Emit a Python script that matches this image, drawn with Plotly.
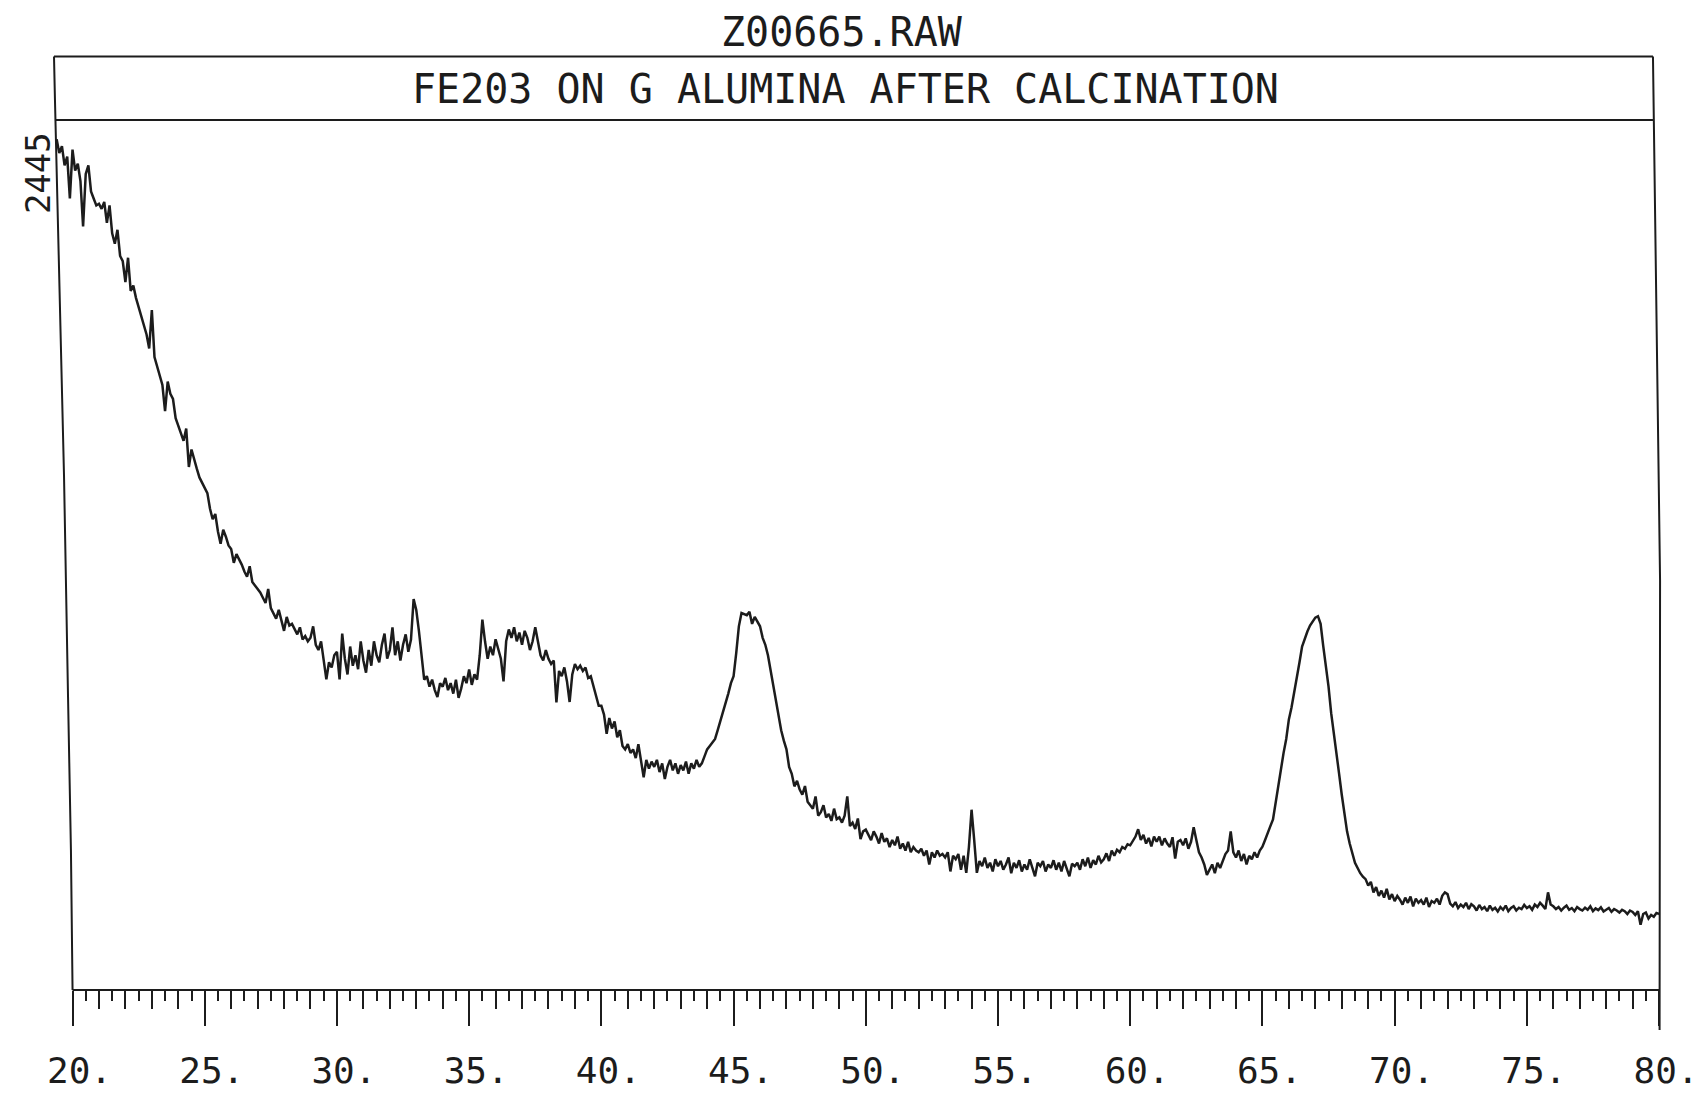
import numpy as np
import plotly.graph_objects as go

# scan parameters as stored in the .RAW file
scan_start = 19.4   # degrees 2-theta
scan_step = 0.1

# counts, one row per degree
counts = [
    2440, 2400, 2420, 2365, 2390, 2270,                          # 19.4 - 19.9
    2410, 2350, 2370, 2320, 2190, 2340, 2365, 2290, 2270, 2250,  # 20
    2255, 2240, 2260, 2200, 2250, 2170, 2140, 2180, 2105, 2090,  # 21
    2030, 2100, 2005, 2020, 1985, 1960, 1935, 1905, 1880, 1840,  # 22
    1950, 1815, 1790, 1760, 1735, 1660, 1745, 1710, 1695, 1640,  # 23
    1620, 1600, 1575, 1610, 1500, 1550, 1520, 1495, 1470, 1455,  # 24
    1440, 1425, 1380, 1350, 1365, 1315, 1280, 1320, 1300, 1275,  # 25
    1265, 1225, 1250, 1235, 1220, 1200, 1185, 1215, 1170, 1160,  # 26
    1150, 1140, 1125, 1110, 1150, 1095, 1080, 1065, 1090, 1055,  # 27
    1030, 1070, 1045, 1050, 1035, 1020, 1040, 1005, 1015, 1000,  # 28
    1010, 1043, 990, 975, 1000, 950, 891, 940, 925, 960,         # 29
    970, 891, 1022, 950, 905, 985, 930, 960, 920, 1000,          # 30
    945, 910, 975, 930, 1000, 960, 940, 990, 1022, 950,          # 31
    975, 1040, 960, 1000, 945, 990, 1020, 970, 1005, 1121,       # 32
    1090, 1030, 960, 890, 900, 870, 890, 860, 840, 880,          # 33
    870, 895, 860, 880, 850, 890, 838, 865, 900, 880,            # 34
    919, 875, 905, 890, 960, 1062, 1000, 950, 985, 960,          # 35
    1006, 980, 950, 885, 1000, 1034, 1010, 1040, 1000, 1025,     # 36
    990, 1030, 1010, 975, 1000, 1040, 995, 960, 945, 975,        # 37
    950, 935, 945, 825, 915, 900, 925, 885, 826, 905,            # 38
    935, 920, 930, 915, 925, 895, 900, 870, 845, 815,            # 39
    815, 790, 735, 780, 750, 770, 725, 745, 700, 690,            # 40
    705, 680, 690, 665, 705, 650, 610, 660, 635, 655,            # 41
    640, 660, 625, 650, 605, 640, 660, 630, 650, 620,            # 42
    645, 630, 655, 620, 650, 635, 660, 640, 650, 670,            # 43
    690, 700, 710, 720, 745, 770, 795, 823, 850, 880,            # 44
    900, 966, 1043, 1081, 1078, 1075, 1085, 1050, 1070, 1055,    # 45
    1043, 1010, 990, 960, 915, 872, 835, 790, 745, 715,          # 46
    690, 640, 620, 584, 600, 575, 560, 585, 540, 530,            # 47
    520, 555, 500, 510, 530, 495, 505, 485, 520, 490,            # 48
    495, 480, 500, 555, 470, 480, 462, 492, 433, 455,            # 49
    460, 445, 430, 455, 440, 420, 450, 425, 435, 410,            # 50
    430, 415, 440, 405, 420, 400, 425, 395, 410, 400,            # 51
    395, 405, 385, 400, 360, 395, 380, 400, 385, 390,            # 52
    380, 395, 340, 385, 375, 390, 345, 385, 336, 410,            # 53
    517, 430, 336, 370, 355, 380, 350, 365, 340, 375,            # 54
    355, 370, 345, 360, 380, 335, 365, 350, 372, 340,            # 55
    360, 345, 375, 350, 326, 365, 355, 370, 340, 360,            # 56
    350, 372, 345, 365, 340, 370, 350, 326, 362, 355,            # 57
    365, 345, 375, 355, 380, 350, 372, 360, 385, 366,            # 58
    375, 392, 370, 400, 385, 402, 395, 410, 405, 418,            # 59
    415, 428, 440, 461, 430, 445, 420, 436, 412, 440,            # 60
    425, 440, 415, 435, 420, 410, 438, 377, 425, 430,            # 61
    415, 435, 405, 425, 467, 430, 395, 380, 360, 330,            # 62
    345, 360, 335, 365, 350, 370, 390, 400, 455, 395,            # 63
    380, 400, 370, 390, 360, 385, 375, 395, 380, 400,            # 64
    411, 430, 452, 470, 489, 536, 595, 642, 680, 720,            # 65
    776, 810, 850, 894, 939, 985, 1010, 1028, 1045, 1055,        # 66
    1068, 1072, 1050, 986, 930, 870, 794, 740, 680, 620,         # 67
    560, 500, 455, 420, 393, 365, 350, 335, 325, 318,            # 68
    300, 310, 280, 295, 270, 285, 265, 290, 260, 275,            # 69
    255, 270, 259, 245, 265, 250, 268, 240, 262, 250,            # 70
    258, 245, 265, 238, 255, 250, 262, 245, 270, 280,            # 71
    275, 248, 240, 252, 235, 245, 238, 250, 232, 246,            # 72
    240, 228, 244, 232, 238, 226, 242, 230, 236, 225,            # 73
    238, 230, 242, 226, 235, 240, 228, 236, 232, 244,            # 74
    235, 240, 230, 245, 238, 250, 242, 232, 280, 245,            # 75
    240, 232, 238, 228, 236, 242, 230, 235, 226, 238,            # 76
    232, 228, 236, 230, 240, 226, 234, 229, 237, 225,            # 77
    230, 235, 224, 232, 228, 222, 230, 226, 218, 228,            # 78
    224, 215, 226, 187, 218, 222, 205, 215, 210, 221,            # 79
    218,                                                         # 80
]

tick_vals = [20, 25, 30, 35, 40, 45, 50, 55, 60, 65, 70, 75, 80]
tick_text = ["20.", "25.", "30.", "35.", "40.", "45.", "50.", "55.", "60.", "65.", "70.", "75.", "80."]
file_name = "Z00665.RAW"
sample_title = "FE203 ON G ALUMINA AFTER CALCINATION"
max_label = "2445"

two_theta = np.round(scan_start + scan_step * np.arange(len(counts)), 2)

INK = "#1c1c1c"
FONT = "DejaVu Sans Mono"
x_range = [19.3, 80.3]

fig = go.Figure()

fig.add_trace(go.Scatter(
    x=two_theta, y=counts,
    mode="lines",
    line=dict(color=INK, width=2.5),
    hoverinfo="x+y",
    showlegend=False,
))
# dummy trace so the second (integer tick) axis gets drawn
fig.add_trace(go.Scatter(x=[None], y=[None], xaxis="x2", showlegend=False, hoverinfo="skip"))

int_ticks = [v for v in range(21, 80) if v % 5 != 0]
half_ticks = [v + 0.5 for v in range(20, 80)]

fig.update_layout(
    width=1703, height=1093, autosize=False,
    paper_bgcolor="white", plot_bgcolor="white",
    margin=dict(l=54, r=36, t=120, b=103),
    showlegend=False,
    xaxis=dict(
        range=x_range, showgrid=False, zeroline=False, showline=False, automargin=False,
        tickmode="array", tickvals=tick_vals, ticktext=tick_text,
        ticks="outside", ticklen=35, tickwidth=2, tickcolor=INK,
        tickfont=dict(family=FONT, size=36, color=INK),
        ticklabelstandoff=14, ticklabelshift=7,
        minor=dict(tickmode="array", tickvals=half_ticks, ticks="outside",
                   ticklen=10, tickwidth=2, tickcolor=INK, showgrid=False),
    ),
    xaxis2=dict(
        overlaying="x", anchor="y", side="bottom", range=x_range, automargin=False,
        showgrid=False, zeroline=False, showline=False, showticklabels=False,
        tickmode="array", tickvals=int_ticks,
        ticks="outside", ticklen=18, tickwidth=2, tickcolor=INK,
    ),
    yaxis=dict(range=[0, 2495], showgrid=False, zeroline=False, showline=False,
               showticklabels=False, ticks="", automargin=False),
)

# frame: header box, slightly skewed side borders (scan), axis baseline
line = dict(color=INK, width=2)
fig.add_shape(type="line", xref="paper", yref="paper", x0=0.0, x1=0.9913, y0=1.073, y1=1.073, line=line)
fig.add_shape(type="line", xref="paper", yref="paper", x0=0.0006, x1=0.9913, y0=1.0, y1=1.0, line=line)
fig.add_shape(type="path", xref="paper", yref="paper",
              path="M 0,1.073 L 0.0006,1.023 L 0.0062,0.592 L 0.0087,0.337 L 0.0105,0.161 L 0.0115,0",
              line=line)
fig.add_shape(type="path", xref="paper", yref="paper",
              path="M 0.9913,1.073 L 0.9957,0.471 L 0.9954,-0.046",
              line=line)
fig.add_shape(type="line", xref="x", yref="paper", x0=20, x1=80, y0=0, y1=0, line=line)

fig.add_annotation(text=file_name, xref="paper", yref="paper", x=0.4885, y=1.1017,
                   xanchor="center", yanchor="middle",
                   showarrow=False, font=dict(family=FONT, size=40, color=INK))
fig.add_annotation(text=sample_title, xref="paper", yref="paper", x=0.4904, y=1.0356,
                   xanchor="center", yanchor="middle",
                   showarrow=False, font=dict(family=FONT, size=40, color=INK))
fig.add_annotation(text=max_label, xref="paper", yref="paper", x=-0.0099, y=0.939,
                   xanchor="center", yanchor="middle",
                   textangle=-90, showarrow=False, font=dict(family=FONT, size=34, color=INK))

# drop the browser's default 8px body margin so the figure sits at the page corner
fig.write_html("out.html", config={"displayModeBar": False},
               post_script="document.body.style.margin='0';")
